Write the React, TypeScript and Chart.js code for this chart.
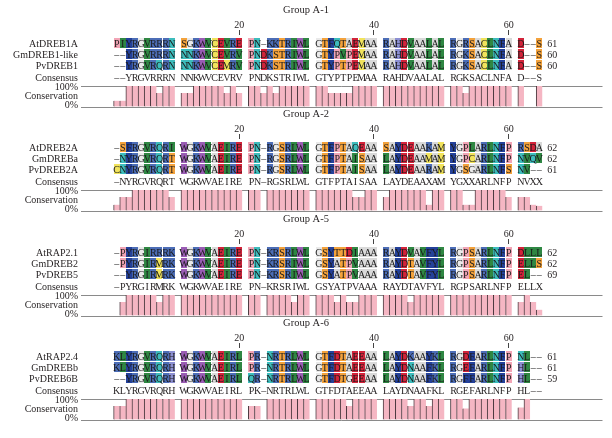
import React, { useEffect, useRef } from 'react';
import { Chart, registerables } from 'chart.js';

Chart.register(...registerables);

// ---------------- data ----------------
const groupTitles = ['Group A-1', 'Group A-2', 'Group A-5', 'Group A-6'];
const positionLabels = [20, 40, 60];

const namesA1 = ['AtDREB1A', 'GmDREB1-like', 'PvDREB1'];
const sequencesA1 = [
  'PIYRGVRRRN SGKWVCEVRE PN-KKTRIWL GTFQTAEMAA RAHDVAALAL RGRSACLNFA D--S',
  '--YRGVRRRN NNKWVCEVRV PNDKSTRIWL GTYPVPEMAA RAHDVAALAL RGKSACLNFA D--S',
  '--YRGVRQRN NNKWVCEMRV PNDKSTRIWL GTYPTPEMAA RAHDVAALAL RGKSACLNFA D--S',
];
const consensusA1 = '--YRGVRRRN NNKWVCEVRV PNDKSTRIWL GTYPTPEMAA RAHDVAALAL RGKSACLNFA D--S';
const lengthsA1 = [61, 60, 60];
const conservationA1 = [
  30, 30, 100, 100, 100, 100, 100, 67, 100, 100,
  67, 67, 100, 100, 100, 100, 100, 67, 100, 67,
  100, 100, 67, 100, 67, 100, 100, 100, 100, 100,
  100, 100, 67, 67, 67, 67, 100, 100, 100, 100,
  100, 100, 100, 100, 100, 100, 100, 100, 100, 100,
  100, 100, 67, 100, 100, 100, 100, 100, 100, 100,
  100, null, null, 100,
];

const namesA2 = ['AtDREB2A', 'GmDREBa', 'PvDREB2A'];
const sequencesA2 = [
  '-SFRGVRQRI WGKWVAEIRE PN-RGSRLWL GTFPTAQEAA SAYDEAAKAM YGPLARLNFP RSDA',
  '-NYRGVRQRT WGKWVAEIRE PN-RGSRLWL GTFPTAISAA LAYDEAAMAM YGPCARLNFP NVQV',
  'CNYRGVRQRT WGKWVAEIRE PN-RGSRLWL GTFPTAISAA LAYDEAARAM YGSGARLNFS NV--',
];
const consensusA2 = '-NYRGVRQRT WGKWVAEIRE PN-RGSRLWL GTFPTAISAA LAYDEAAXAM YGXXARLNFP NVXX';
const lengthsA2 = [62, 62, 61];
const conservationA2 = [
  30, 67, 67, 100, 100, 100, 100, 100, 100, 67,
  100, 100, 100, 100, 100, 100, 100, 100, 100, 100,
  100, 100, null, 100, 100, 100, 100, 100, 100, 100,
  100, 100, 100, 100, 100, 100, 67, 67, 100, 100,
  67, 100, 100, 100, 100, 100, 100, 30, 100, 100,
  100, 100, 30, 30, 100, 100, 100, 100, 100, 67,
  67, 67, 30, 25,
];

const namesA5 = ['AtRAP2.1', 'GmDREB2', 'PvDREB5'];
const sequencesA5 = [
  '-PYRGIRRRK WGKWVAEIRE PN-KRSRLWL GSYTTDIAAA RAYDVAVFYL RGPSARLNFP DLLL',
  '-PYRGIRMRK WGKWVAEIRE PN-KRSRIWL GSYATPVAAA RAYDTAVFYL RGPSARLNFP ELLS',
  '--YRGIRMRK WGKWVAEIRE PN-KRSRIWL GSYATPVAAA RAYDTAVFYL RGPSARLNFP EL--',
];
const consensusA5 = '-PYRGIRMRK WGKWVAEIRE PN-KRSRIWL GSYATPVAAA RAYDTAVFYL RGPSARLNFP ELLX';
const lengthsA5 = [62, 62, 69];
const conservationA5 = [
  null, 67, 100, 100, 100, 100, 100, 67, 100, 100,
  100, 100, 100, 100, 100, 100, 100, 100, 100, 100,
  100, 100, null, 100, 100, 100, 100, 67, 100, 100,
  100, 100, 100, 67, 100, 67, 67, 100, 100, 100,
  100, 100, 100, 100, 67, 100, 100, 100, 100, 100,
  100, 100, 100, 100, 100, 100, 100, 100, 100, 100,
  67, 100, 67, 30,
];

const namesA6 = ['AtRAP2.4', 'GmDREBb', 'PvDREB6B'];
const sequencesA6 = [
  'KLYRGVRQRH WGKWVAEIRL PR-NRTRLWL GTFDTAEEAA LAYDKAAYKL RGDFARLNFP NL--',
  'KLYRGVRQRH WGKWVAEIRL PR-NRTRLWL GTFDTAEEAA LAYDNAAFKL RGEFARLNFP HL--',
  '--YRGVRQRH WGKWVAEIRL QR-NRTRLWL GTFDTGEEAA LAYDNAAFKL RGFFARLNFP HL--',
];
const consensusA6 = 'KLYRGVRQRH WGKWVAEIRL PK-NRTRLWL GTFDTAEEAA LAYDNAAFKL RGEFARLNFP HL--';
const lengthsA6 = [61, 61, 59];
const conservationA6 = [
  67, 67, 100, 100, 100, 100, 100, 100, 100, 100,
  100, 100, 100, 100, 100, 100, 100, 100, 100, 100,
  67, 67, null, 100, 100, 100, 100, 100, 100, 100,
  100, 100, 100, 100, 100, 67, 100, 100, 100, 100,
  100, 100, 100, 100, 67, 100, 100, 67, 100, 100,
  100, 100, 55, 100, 100, 100, 100, 100, 100, 100,
  60, 100, null, null,
];

// ---------------- styles ----------------
const residueColors: Record<string, string> = {
  A: '#d9d9d9', G: '#e9e9e9', P: '#f2a5b6',
  I: '#2f8743', L: '#2f8743', V: '#2f8743',
  F: '#24419a', Y: '#24419a', W: '#9a5cb4',
  M: '#f1e35c', C: '#f1e35c',
  R: '#4c6db6', K: '#4c6db6', H: '#8c8fd2',
  D: '#d2233a', E: '#d2233a',
  N: '#3dbcbc', Q: '#3dbcbc',
  S: '#f3a23c', T: '#f3a23c',
};

const FONT = '"Liberation Serif", "Times New Roman", serif';
const W = 612;
const H = 438;
const PANEL_OFFSETS = [0, 104, 209, 313];
const BAR_TOP = 86;
const BAR_BOTTOM = 107;
const GRID_LEFT = 81;
const CELL = 7;
const X_MAX = 74.5;

const clean = (s: string) => s.replace(/ /g, '');
const gridIndex = (c: number) => Math.floor(c / 10) * 11 + (c % 10);

const panels = [
  { title: groupTitles[0], names: namesA1, seqs: sequencesA1, consensus: consensusA1, lengths: lengthsA1, conservation: conservationA1 },
  { title: groupTitles[1], names: namesA2, seqs: sequencesA2, consensus: consensusA2, lengths: lengthsA2, conservation: conservationA2 },
  { title: groupTitles[2], names: namesA5, seqs: sequencesA5, consensus: consensusA5, lengths: lengthsA5, conservation: conservationA5 },
  { title: groupTitles[3], names: namesA6, seqs: sequencesA6, consensus: consensusA6, lengths: lengthsA6, conservation: conservationA6 },
];

function makePlugin(panel: any) {
  return {
    id: 'alignment',
    afterDraw(chart: any) {
      const { ctx, chartArea } = chart;
      const xs = chart.scales.x;
      const top = chartArea.top;
      const bottom = chartArea.bottom;
      const cell = xs.getPixelForValue(1) - xs.getPixelForValue(0);
      const cx = (c: number) => xs.getPixelForValue(gridIndex(c) + 0.5);
      const textColor = '#231f20';
      ctx.save();
      ctx.textBaseline = 'alphabetic';

      // title
      ctx.fillStyle = textColor;
      ctx.font = `10.5px ${FONT}`;
      ctx.textAlign = 'center';
      ctx.fillText(panel.title, 306, top - 73.5);

      // position labels
      ctx.font = `10px ${FONT}`;
      positionLabels.forEach((n) => {
        const x = cx(n - 1);
        ctx.fillStyle = textColor;
        ctx.fillText(String(n), x, top - 58.5);
        ctx.strokeStyle = '#444';
        ctx.lineWidth = 1;
        ctx.beginPath();
        ctx.moveTo(Math.floor(x) + 0.5, top - 56);
        ctx.lineTo(Math.floor(x) + 0.5, top - 51);
        ctx.stroke();
      });

      const rowY = [top - 43, top - 32, top - 21];
      const lenX = xs.getPixelForValue(70) + 5;
      panel.seqs.forEach((raw: string, r: number) => {
        const s = clean(raw);
        const y = rowY[r];
        for (let c = 0; c < s.length; c++) {
          const col = residueColors[s[c]];
          if (col) {
            ctx.fillStyle = col;
            ctx.fillRect(Math.round(cx(c) - cell / 2), y - 5, Math.round(cell), 10);
          }
        }
        ctx.fillStyle = '#1a1a1a';
        ctx.textAlign = 'center';
        for (let c = 0; c < s.length; c++) {
          const ch = s[c] === '-' ? '\u2013' : s[c];
          ctx.fillText(ch, cx(c), y + 3.5);
        }
        ctx.fillStyle = textColor;
        ctx.textAlign = 'right';
        ctx.fillText(panel.names[r], 78, y + 3.5);
        ctx.textAlign = 'left';
        ctx.fillText(String(panel.lengths[r]), lenX, y + 3.5);
      });

      // consensus
      const cons = clean(panel.consensus);
      const cy = top - 9;
      ctx.fillStyle = textColor;
      ctx.textAlign = 'center';
      for (let c = 0; c < cons.length; c++) {
        const ch = cons[c] === '-' ? '\u2013' : cons[c];
        ctx.fillText(ch, cx(c), cy + 3.5);
      }
      ctx.textAlign = 'right';
      ctx.fillText('Consensus', 78, cy + 3.5);
      ctx.fillText('100%', 78, top + 4);
      ctx.fillText('Conservation', 78, top + 13);
      ctx.fillText('0%', 78, bottom + 1);
      ctx.restore();
    },
  };
}

function PanelChart({ index }: { index: number }) {
  const ref = useRef<HTMLCanvasElement | null>(null);
  useEffect(() => {
    const panel = panels[index];
    const off = PANEL_OFFSETS[index];
    const top = BAR_TOP + off;
    const bottom = BAR_BOTTOM + off;
    const data = panel.conservation
      .map((v: number | null, c: number) => (v == null ? null : { x: gridIndex(c) + 0.5, y: v }))
      .filter((d: any) => d !== null);
    const chart = new Chart(ref.current as HTMLCanvasElement, {
      type: 'bar',
      data: {
        datasets: [
          {
            data: data as any,
            backgroundColor: '#f5b6c3',
            borderColor: 'rgba(45,25,32,0.85)',
            borderWidth: { left: 1, right: 0, top: 0, bottom: 0 } as any,
            borderSkipped: false as any,
            barPercentage: 1,
            categoryPercentage: 1,
          },
        ],
      },
      options: {
        responsive: false,
        animation: false,
        layout: {
          padding: { left: GRID_LEFT, right: W - (GRID_LEFT + X_MAX * CELL), top, bottom: H - bottom },
        },
        plugins: {
          legend: { display: false },
          tooltip: { enabled: false },
          title: { display: false },
        },
        scales: {
          x: { type: 'linear', min: 0, max: X_MAX, display: false },
          y: {
            min: 0,
            max: 100,
            ticks: { display: false, stepSize: 100 },
            grid: { color: '#8a8a8a', drawTicks: false, lineWidth: 1 },
            border: { display: false },
          },
        },
      },
      plugins: [makePlugin(panel)],
    });
    return () => chart.destroy();
  }, [index]);
  return (
    <canvas
      ref={ref}
      width={W}
      height={H}
      style={{ position: 'absolute', left: 0, top: 0, width: W, height: H }}
    />
  );
}

export default function App() {
  return (
    <div style={{ position: 'fixed', left: 0, top: 0, width: W, height: H, background: '#ffffff' }}>
      {panels.map((_, i) => (
        <PanelChart key={i} index={i} />
      ))}
    </div>
  );
}
